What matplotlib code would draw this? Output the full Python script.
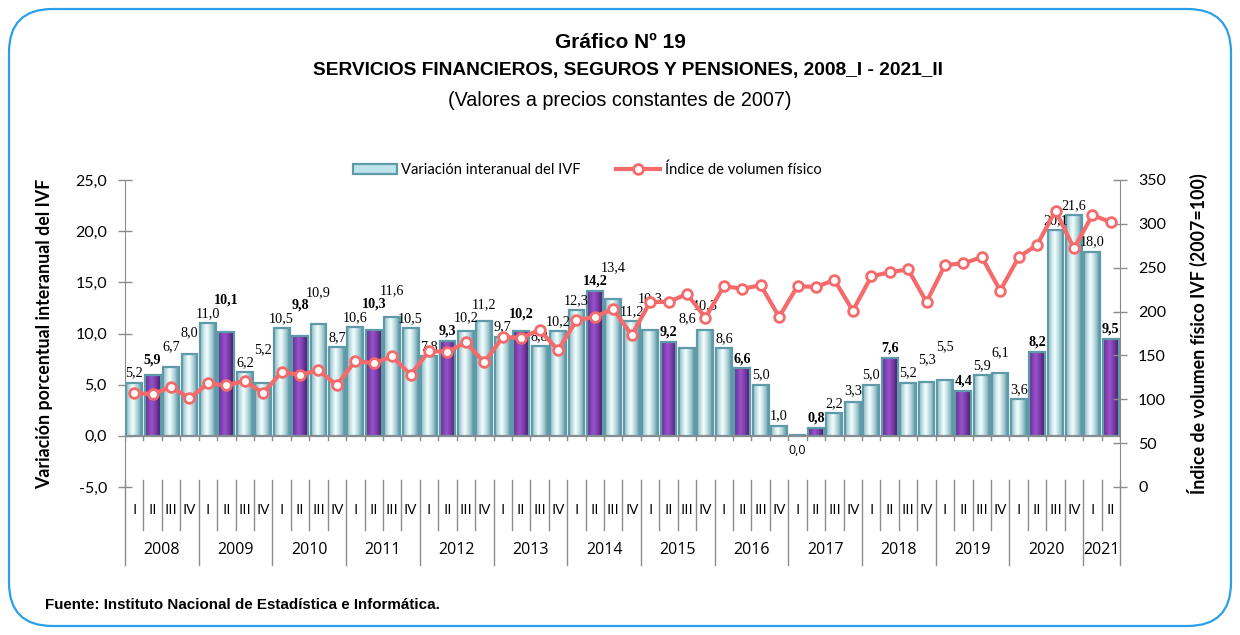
import numpy as np
import matplotlib
matplotlib.use("Agg")
from matplotlib import pyplot as plt
from matplotlib.patches import FancyBboxPatch, Rectangle
from matplotlib.lines import Line2D
import matplotlib.transforms as mtransforms

# data
years = ['2008', '2009', '2010', '2011', '2012', '2013', '2014',
         '2015', '2016', '2017', '2018', '2019', '2020', '2021']
quarters = ['I', 'II', 'III', 'IV']

variacion = [5.2, 5.9, 6.7, 8.0,
             11.0, 10.1, 6.2, 5.2,
             10.5, 9.8, 10.9, 8.7,
             10.6, 10.3, 11.6, 10.5,
             7.8, 9.3, 10.2, 11.2,
             9.7, 10.2, 8.8, 10.2,
             12.3, 14.2, 13.4, 11.2,
             10.3, 9.2, 8.6, 10.3,
             8.6, 6.6, 5.0, 1.0,
             0.0, 0.8, 2.2, 3.3,
             5.0, 7.6, 5.2, 5.3,
             5.5, 4.4, 5.9, 6.1,
             3.6, 8.2, 20.1, 21.6,
             18.0, 9.5]

indice = [107, 106, 114, 101,
          118, 116, 121, 107,
          131, 128, 133, 116,
          144, 141, 149, 128,
          155, 154, 165, 142,
          171, 170, 179, 156,
          190, 194, 203, 173,
          211, 211, 220, 193,
          229, 226, 230, 194,
          229, 228, 236, 201,
          240, 245, 248, 211,
          253, 255, 262, 224,
          262, 276, 315, 272,
          310, 302]

n = len(variacion)
x = np.arange(n)
labels_q = [quarters[i % 4] for i in range(n)]

plt.rcParams['font.family'] = ['Lato', 'DejaVu Sans']
title_font = ['Liberation Sans', 'DejaVu Sans']

fig = plt.figure(figsize=(12.4, 6.35), dpi=100)
W, H = 1240, 635

# rounded frame
frame = FancyBboxPatch((9 / W, 9 / H), 1 - 18 / W, 1 - 18 / H,
                       boxstyle="round,pad=0,rounding_size=0.035",
                       transform=fig.transFigure, fill=False,
                       edgecolor='#2aa0ea', linewidth=1.6,
                       mutation_aspect=W / H)
fig.patches.append(frame)

fig.text(0.5, 1 - 42 / H, 'Gráfico Nº 19', ha='center', va='center',
         fontsize=15, fontweight='bold', family=title_font)
fig.text(0.506, 1 - 70 / H, 'SERVICIOS FINANCIEROS, SEGUROS Y PENSIONES, 2008_I - 2021_II',
         ha='center', va='center', fontsize=13.8, fontweight='bold', family=title_font)
fig.text(0.5, 1 - 101 / H, '(Valores a precios constantes de 2007)', ha='center',
         va='center', fontsize=14.2, family=title_font)
fig.text(45 / W, 1 - 605 / H, 'Fuente: Instituto Nacional de Estadística e Informática.',
         ha='left', va='center', fontsize=10.9, fontweight='bold', family=title_font)

ax = fig.add_axes([125 / W, (H - 487) / H, (1120 - 125) / W, (487 - 180) / H])
ax2 = ax.twinx()
ax.set_zorder(1)
ax2.set_zorder(2)
ax.patch.set_visible(False)
ax2.patch.set_visible(False)

ax.set_xlim(-0.5, n - 0.5)
ax.set_ylim(-5, 25)
ax2.set_ylim(0, 350)

width = 0.86
grad = np.linspace(0, 1, 64)
shape = 1 - np.abs(grad - 0.42) * 1.9
shape = np.clip(shape, 0, 1) ** 0.7
light_img = np.zeros((2, 64, 3))
purple_img = np.zeros((2, 64, 3))
edge_l = np.array([0.34, 0.58, 0.64])
mid_l = np.array([0.95, 1.0, 1.0])
edge_p = np.array([0.26, 0.10, 0.40])
mid_p = np.array([0.60, 0.32, 0.80])
for j in range(64):
    light_img[:, j] = edge_l + (mid_l - edge_l) * shape[j]
    purple_img[:, j] = edge_p + (mid_p - edge_p) * shape[j]

label_h = 1.3  # approx text height in data units
prev_y = -99
for i, v in enumerate(variacion):
    is_q2 = (i % 4 == 1)
    h = max(v, 0.12)
    rect = Rectangle((x[i] - width / 2, 0), width, h, facecolor='none',
                     edgecolor='#5e9aa8', linewidth=1.6, zorder=3)
    ax.add_patch(rect)
    img = ax.imshow(purple_img if is_q2 else light_img, aspect='auto',
                    extent=(x[i] - width / 2, x[i] + width / 2, 0, h),
                    zorder=2, interpolation='bilinear')
    img.set_clip_path(rect)
    # data label, staggered when it would collide with the previous one
    weight = 'bold' if is_q2 else 'normal'
    if v == 0:
        ax.text(x[i], -1.4, '0,0', ha='center', va='center', fontsize=9,
                family=['Open Sans', 'DejaVu Sans'], zorder=6)
        prev_y = -99
        continue
    y = v + 0.3
    if abs(y - prev_y) < label_h:
        y = prev_y + label_h
    ax.text(x[i], y, f'{v:.1f}'.replace('.', ','), ha='center',
            va='bottom', fontsize=10.2, fontweight=weight,
            family=['Liberation Serif', 'DejaVu Serif'], zorder=6)
    prev_y = y

ax.set_xlim(-0.5, n - 0.5)
ax.set_ylim(-5, 25)

ax2.plot(x, indice, color='#f56a6a', linewidth=3, marker='o', markersize=7,
         markerfacecolor='white', markeredgecolor='#f56a6a', markeredgewidth=2,
         zorder=5)

# axes styling
for a in (ax, ax2):
    for s in a.spines.values():
        s.set_visible(False)
ax.set_xticks([])
ax.set_yticks(np.arange(-5, 26, 5))
ax.set_yticklabels([f'{t:.1f}'.replace('.', ',') for t in np.arange(-5, 26, 5)])
ax2.set_yticks(np.arange(0, 351, 50))
ax.tick_params(axis='y', length=10, width=1, color='#8c8c8c', direction='inout',
               labelsize=11.5, pad=8)
ax2.tick_params(axis='y', length=10, width=1, color='#8c8c8c', direction='inout',
                labelsize=11.5, pad=8)
ax.spines['left'].set_visible(True)
ax.spines['left'].set_color('#8c8c8c')
ax2.spines['right'].set_visible(True)
ax2.spines['right'].set_color('#8c8c8c')

# zero line with category ticks
ax.axhline(0, color='#8c8c8c', linewidth=1.2, zorder=4)
for b in np.arange(-0.5, n, 1):
    ax.plot([b, b], [0, -0.45], color='#8c8c8c', linewidth=1, zorder=4)

ax.set_ylabel('Variación porcentual interanual del IVF', fontsize=12.8,
              fontweight='bold', labelpad=16)
ax2.set_ylabel('Índice de volumen físico IVF (2007=100)', fontsize=12.8,
               fontweight='bold', labelpad=15)

# multi-level category labels
tr = mtransforms.blended_transform_factory(ax.transData, ax.transAxes)
px = 1 / (487 - 180)
for i in range(n):
    ax.text(x[i], -(510 - 487) * px, labels_q[i], transform=tr, ha='center',
            va='center', fontsize=11, family=['Open Sans', 'DejaVu Sans'])
for b in np.arange(-0.5, n, 1):
    year_edge = (b + 0.5) % 4 == 0 or b == n - 0.5
    bottom = -(565 - 487) * px if year_edge else -(530 - 487) * px
    ax.add_line(Line2D([b, b], [-(480 - 487) * px, bottom], transform=tr,
                       color='#8c8c8c', linewidth=1, clip_on=False))
for k, yr in enumerate(years):
    start = k * 4
    end = min(start + 4, n)
    ax.text((start + end - 1) / 2, -(550 - 487) * px, yr, transform=tr,
            ha='center', va='center', fontsize=11.5,
            family=['Open Sans', 'DejaVu Sans'])

# legend
leg_handles = [Rectangle((0, 0), 1, 1, facecolor='#bfe3ea', edgecolor='#5e9aa8',
                         linewidth=1.6),
               Line2D([0], [0], color='#f56a6a', linewidth=3, marker='o',
                      markersize=7, markerfacecolor='white',
                      markeredgecolor='#f56a6a', markeredgewidth=2)]
fig.legend(leg_handles, ['Variación interanual del IVF', 'Índice de volumen físico'],
           loc='center', bbox_to_anchor=(587 / W, 1 - 170 / H), ncol=2, frameon=False,
           columnspacing=2.4, handlelength=3.0, handletextpad=0.3,
           prop={'family': ['Lato', 'DejaVu Sans'], 'size': 10.6})

plt.savefig('out.png', dpi=100)
